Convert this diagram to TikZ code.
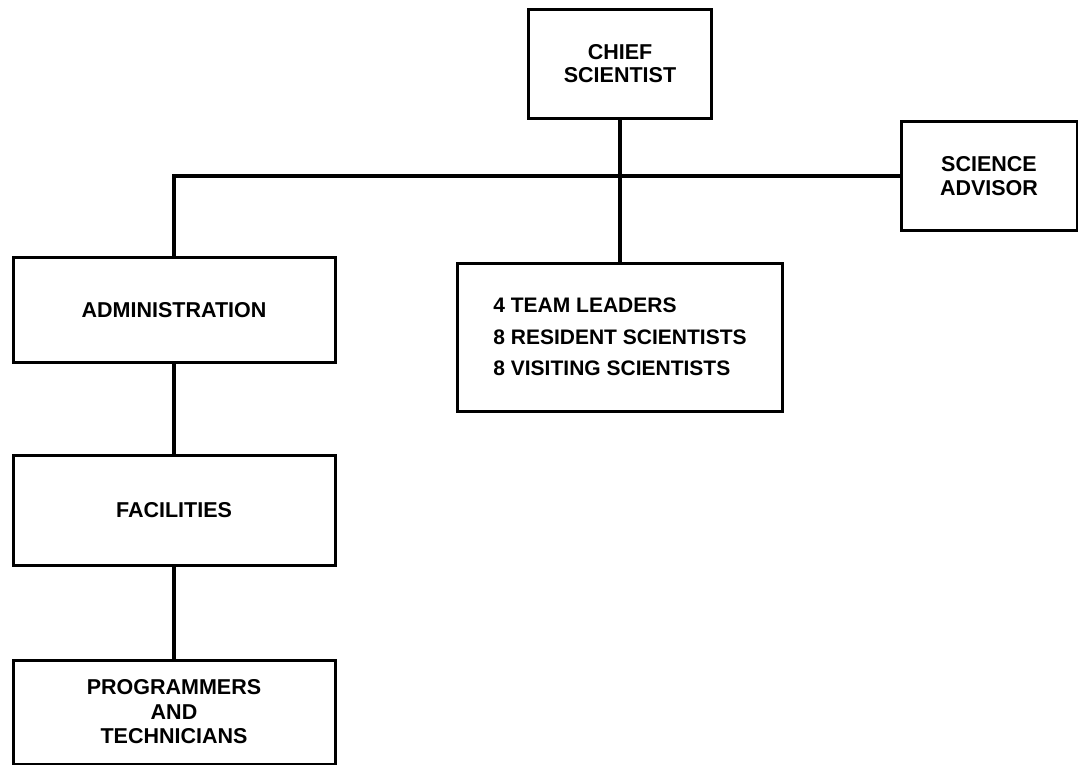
\documentclass[tikz,border=0pt]{standalone}
\usepackage{fontspec}
\setmainfont{Liberation Sans}
\begin{document}
\begin{tikzpicture}[x=1pt,y=-1pt,
  box/.style={draw, line width=3pt, inner sep=0pt, align=center,
    font=\bfseries\fontsize{21.5}{23}\selectfont},
  link/.style={line width=3.4pt}]
\useasboundingbox (0,0) rectangle (1078,765);

% top of the chart
\node[box, minimum width=183pt, minimum height=109pt] (chief) at (620,64)
  {CHIEF\\SCIENTIST};
\node[box, minimum width=176pt, minimum height=108pt,
      font=\bfseries\fontsize{21.5}{24}\selectfont] (advisor) at (989,176)
  {SCIENCE\\ADVISOR};

% research staff
\node[box, minimum width=325pt, minimum height=148pt, align=left,
      font=\bfseries\fontsize{21}{31.5}\selectfont] (team) at (620,337)
  {4 TEAM LEADERS\\8 RESIDENT SCIENTISTS\\8 VISITING SCIENTISTS};

% support branch
\node[box, minimum width=322pt, minimum height=105pt] (admin) at (174,310)
  {ADMINISTRATION};
\node[box, minimum width=322pt, minimum height=110pt] (facil) at (174,510)
  {FACILITIES};
\node[box, minimum width=322pt, minimum height=104pt,
      font=\bfseries\fontsize{21.5}{24.5}\selectfont] (prog) at (174,712)
  {PROGRAMMERS\\AND\\TECHNICIANS};

% connectors
\draw[link] (chief.south) -- (team.north);
\draw[link] (admin.north) |- (advisor.west);
\draw[link] (admin.south) -- (facil.north);
\draw[link] (facil.south) -- (prog.north);
\end{tikzpicture}
\end{document}
